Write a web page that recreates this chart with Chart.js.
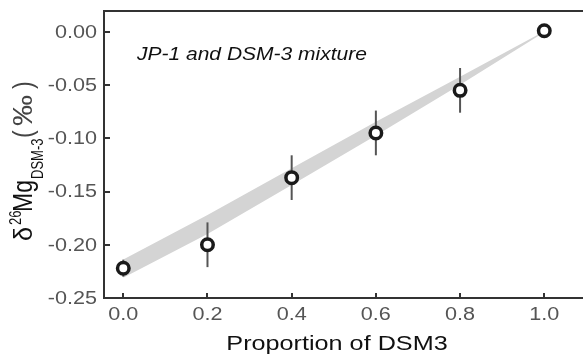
<!DOCTYPE html>
<html>
<head>
<meta charset="utf-8">
<script src="https://cdn.jsdelivr.net/npm/chart.js"></script>
<style>
  html, body { margin: 0; padding: 0; background: #fff; overflow: hidden; }
  #wrap { width: 583px; height: 355px; position: relative; }
</style>
</head>
<body>
<div id="wrap"><canvas id="myChart"></canvas></div>
<script>
// measured mixtures: proportion of DSM3 vs delta26Mg (per mil), with 2SD
const proportion = [0.0, 0.2, 0.4, 0.6, 0.8, 1.0];
const delta26Mg = [-0.222, -0.200, -0.137, -0.095, -0.055, 0.001];
const err2sd = [0.008, 0.021, 0.021, 0.021, 0.021, 0.004];

// theoretical mixing envelope
const bandX = [0.0, 0.2, 0.4, 0.6, 0.8, 0.9, 1.0];
const bandUpper = [-0.2139, -0.172, -0.1282, -0.0846, -0.0422, -0.0208, 0.0004];
const bandLower = [-0.2311, -0.190, -0.1438, -0.0974, -0.0498, -0.0252, -0.0004];

// axis ticks
const xTicks = [0.0, 0.2, 0.4, 0.6, 0.8, 1.0];
const yTicks = [-0.25, -0.20, -0.15, -0.10, -0.05, 0.00];

const FONT = '"Liberation Sans", Arial, Helvetica, sans-serif';
const SX = 1.2; // glyphs in this figure run wide

function wideText(ctx, text, x, y, font, color, align, baseline) {
  ctx.save();
  ctx.font = font;
  ctx.fillStyle = color;
  ctx.textAlign = align;
  ctx.textBaseline = baseline;
  ctx.translate(x, y);
  ctx.scale(SX, 1);
  ctx.fillText(text, 0, 0);
  ctx.restore();
}

const zip = (xs, ys) => xs.map((x, i) => ({ x: x, y: ys[i] }));

// error bars under the markers
const errorBars = {
  id: 'errorBars',
  beforeDatasetDraw(chart, args) {
    if (args.meta.label !== 'measured') return;
    const ctx = chart.ctx, xs = chart.scales.x, ys = chart.scales.y;
    ctx.save();
    ctx.strokeStyle = '#555';
    ctx.lineWidth = 2;
    proportion.forEach((p, i) => {
      const px = xs.getPixelForValue(p);
      ctx.beginPath();
      ctx.moveTo(px, ys.getPixelForValue(delta26Mg[i] - err2sd[i]));
      ctx.lineTo(px, ys.getPixelForValue(delta26Mg[i] + err2sd[i]));
      ctx.stroke();
    });
    ctx.restore();
  }
};

// frame, inward ticks, tick labels, titles
const decorations = {
  id: 'decorations',
  afterDraw(chart) {
    const ctx = chart.ctx, a = chart.chartArea;
    const xs = chart.scales.x, ys = chart.scales.y;
    ctx.save();
    ctx.strokeStyle = '#333';
    ctx.lineWidth = 2;
    ctx.beginPath();
    ctx.moveTo(a.left - 1, a.top);
    ctx.lineTo(a.right, a.top);
    yTicks.forEach(v => {
      const py = Math.round(ys.getPixelForValue(v));
      ctx.moveTo(a.left, py);
      ctx.lineTo(a.left + 6, py);
    });
    xTicks.forEach(v => {
      const px = Math.round(xs.getPixelForValue(v));
      ctx.moveTo(px, a.bottom);
      ctx.lineTo(px, a.bottom - 5);
    });
    ctx.stroke();
    ctx.restore();

    yTicks.forEach(v => {
      wideText(ctx, v.toFixed(2), a.left - 7, ys.getPixelForValue(v) + 1,
        '18px ' + FONT, '#555', 'right', 'middle');
    });
    xTicks.forEach(v => {
      wideText(ctx, v.toFixed(1), xs.getPixelForValue(v), a.bottom + 17,
        '18px ' + FONT, '#555', 'center', 'middle');
    });

    wideText(ctx, 'Proportion of DSM3', 337, 350, '21px ' + FONT, '#111', 'center', 'alphabetic');
    wideText(ctx, 'JP-1 and DSM-3 mixture', 137, 60, 'italic 17.5px ' + FONT, '#111', 'left', 'alphabetic');

    // rotated y title: δ26Mg(DSM-3) (‰)
    ctx.save();
    ctx.translate(32, 243);
    ctx.rotate(-Math.PI / 2);
    ctx.scale(1, SX);
    ctx.textAlign = 'left';
    ctx.textBaseline = 'alphabetic';
    ctx.fillStyle = '#111';
    ctx.font = '22px ' + FONT;
    ctx.save();
    ctx.translate(2, 0);
    ctx.scale(1.15, 1);
    ctx.fillText('δ', 0, 0);
    ctx.restore();
    ctx.font = '13px ' + FONT;
    ctx.fillText('26', 18, -9);
    ctx.font = '23px ' + FONT;
    ctx.fillText('Mg', 31, 0);
    ctx.font = '13px ' + FONT;
    ctx.fillText('DSM-3', 64, 9);
    ctx.fillStyle = '#444';
    ctx.font = '23px ' + FONT;
    ctx.fillText('(', 105, 0);
    ctx.save();
    ctx.translate(117, 0);
    ctx.scale(1.35, 1);
    ctx.fillText('‰', 0, 0);
    ctx.restore();
    ctx.fillText(')', 154, 0);
    ctx.restore();
  }
};

const ctx = document.getElementById('myChart').getContext('2d');
const myChart = new Chart(ctx, {
  type: 'scatter',
  data: {
    datasets: [
      {
        label: 'measured',
        order: 0,
        data: zip(proportion, delta26Mg),
        showLine: false,
        pointRadius: 5.75,
        borderWidth: 3.5,
        borderColor: '#1a1a1a',
        backgroundColor: '#fff',
        pointBackgroundColor: '#fff'
      },
      {
        label: 'lower',
        order: 2,
        data: zip(bandX, bandLower),
        showLine: true,
        borderWidth: 0,
        borderColor: 'rgba(0,0,0,0)',
        pointRadius: 0,
        fill: false
      },
      {
        label: 'upper',
        order: 1,
        data: zip(bandX, bandUpper),
        showLine: true,
        borderWidth: 0,
        borderColor: 'rgba(0,0,0,0)',
        backgroundColor: '#d4d4d4',
        pointRadius: 0,
        fill: '-1'
      }
    ]
  },
  options: {
    responsive: true,
    maintainAspectRatio: false,
    animation: false,
    layout: { autoPadding: false, padding: { top: 11, right: 0, left: 0, bottom: 0 } },
    plugins: {
      legend: { display: false },
      tooltip: { enabled: false }
    },
    scales: {
      x: {
        type: 'linear',
        min: -0.0458,
        max: 1.092,
        afterBuildTicks: s => { s.ticks = xTicks.map(v => ({ value: v })); },
        afterFit: s => { s.height = 57; },
        ticks: { display: false },
        grid: { display: false, drawTicks: false },
        border: { display: true, color: '#333', width: 2 }
      },
      y: {
        type: 'linear',
        min: -0.25,
        max: 0.0195,
        afterBuildTicks: s => { s.ticks = yTicks.map(v => ({ value: v })); },
        afterFit: s => { s.width = 104; },
        ticks: { display: false },
        grid: { display: false, drawTicks: false },
        border: { display: true, color: '#333', width: 2 }
      }
    }
  },
  plugins: [errorBars, decorations]
});
</script>
</body>
</html>
